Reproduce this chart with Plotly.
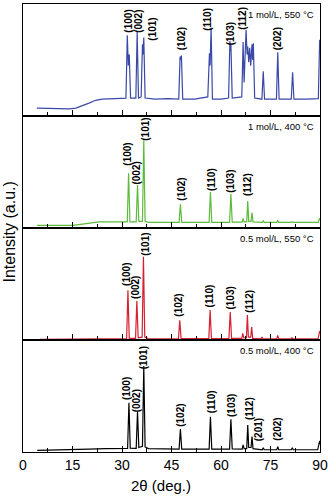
import plotly.graph_objects as go
from plotly.subplots import make_subplots

# ---------------- data (2theta in deg., intensity in a.u., each panel 0-100) ----------------
tt_1M550 = [4.2, 8, 12, 14, 16, 18, 20, 22, 24, 28, 31.2, 31.6, 31.9, 32.2, 32.6, 34.2, 34.6, 35.0,
            35.8, 36.2, 36.4, 36.6, 37.0, 40, 44, 47.2, 47.6, 47.8, 48.0, 48.4, 52, 56.0, 56.5, 56.7,
            57.0, 57.4, 60, 62.3, 62.7, 62.85, 63.0, 63.4, 66.3, 66.7, 67.0, 67.6, 67.9, 68.1, 68.4,
            68.7, 69.0, 69.4, 69.6, 69.8, 70.2, 72.4, 72.8, 73.2, 76.8, 77.2, 77.6, 81.3, 81.7, 82.1,
            86, 89.5, 89.9, 90]
I_1M550 = [7, 6.8, 6.5, 6.3, 7, 9, 11.5, 14, 15, 15.5, 16, 72, 45, 55, 16, 16, 75, 16,
           17, 64, 55, 70, 16, 15, 15.5, 15, 53, 50, 54, 15, 15, 17, 56, 45,
           79, 15, 15, 16, 67, 58, 64, 16, 17, 66, 30, 77, 55, 62, 48,
           61, 45, 64, 50, 65, 16, 15, 40, 15, 15, 57, 15, 15, 39, 15,
           15, 15.5, 68, 60]

tt_1M400 = [4.2, 15, 18, 23, 31.6, 32.0, 32.4, 34.3, 34.7, 35.1, 36.2, 36.6, 37.0, 38, 47.3, 47.7,
            48.1, 56.4, 56.8, 57.2, 62.6, 63.0, 63.4, 66.4, 66.7, 67.0, 67.8, 68.1, 68.4, 69.1, 69.4,
            69.7, 72.5, 72.8, 73.1, 76.9, 77.2, 77.5, 81.3, 81.6, 81.9, 89.4, 89.9, 90]
I_1M400 = [2.4, 2.4, 3.5, 5.4, 5.5, 48.8, 5.5, 5.5, 38.4, 6, 6, 78.3, 6, 5, 5, 21.2,
           5, 5, 32.1, 5, 5, 30.4, 5.2, 5.2, 8.6, 5.5, 5.5, 24, 6, 6, 13.7,
           5.5, 5, 6.3, 5, 5, 7, 5, 5, 5.4, 5, 5, 8.7, 7]

tt_05M550 = [5.1, 15, 25, 31.4, 31.8, 32.2, 34.1, 34.5, 34.9, 36.1, 36.5, 36.9, 38, 47.1, 47.5,
             47.9, 56.3, 56.7, 57.1, 62.4, 62.8, 63.2, 66.3, 66.6, 66.9, 67.7, 68.0, 68.3, 69.0,
             69.3, 69.6, 72.1, 72.4, 72.7, 76.9, 77.2, 77.5, 81.2, 81.5, 81.8, 89.4, 89.9, 90]
I_05M550 = [0.6, 0.8, 1, 1.2, 44.4, 1.5, 1.5, 34.8, 2, 2.5, 74.4, 2.5, 1.2, 1, 17.6,
            1.2, 1.2, 26.8, 1.3, 1.3, 25, 1.5, 1.5, 6, 1.8, 1.8, 22.3, 2.5, 2.5,
            11.6, 1.5, 1, 2.7, 1, 1, 4.2, 1, 1, 2, 1, 1, 8, 6]

tt_05M400 = [4.3, 15, 20, 25, 31.7, 32.1, 32.5, 34.3, 34.7, 35.1, 36.2, 36.6, 37.0, 38, 47.3, 47.7,
             48.1, 56.4, 56.8, 57.2, 62.6, 63.0, 63.4, 66.4, 66.7, 67.0, 67.8, 68.1, 68.4, 69.1,
             69.4, 69.7, 72.5, 72.8, 73.1, 76.9, 77.2, 77.5, 81.3, 81.6, 81.9, 89.3, 89.9, 90]
I_05M400 = [1.5, 1.8, 2.5, 3, 3.2, 44, 3.5, 3.3, 36, 4, 5, 76.8, 4.5, 3, 2.5, 20.5,
            2.5, 2.5, 31.5, 2.6, 2.5, 29.2, 2.8, 2.6, 6.3, 3, 3, 24, 4, 4,
            13.7, 3, 2, 3.8, 2, 2, 4.7, 2, 2, 3.8, 2, 2, 10, 7]

panel_titles = ["1 mol/L, 550 \u00b0C", "1 mol/L, 400 \u00b0C", "0.5 mol/L, 550 \u00b0C", "0.5 mol/L, 400 \u00b0C"]

# peak labels (text, 2theta, label height in a.u.)
lab1_text = ["(100)", "(002)", "(101)", "(102)", "(110)", "(103)", "(112)", "(202)"]
lab1_x = [31.7, 34.8, 39.3, 48.3, 55.7, 62.8, 66.3, 77.4]
lab1_y = [84.8, 84.8, 77.7, 68.8, 86.6, 73.2, 87.5, 68.8]

lab2_text = ["(100)", "(002)", "(101)", "(102)", "(110)", "(103)", "(112)"]
lab2_x = [31.8, 34.5, 37.1, 48.0, 57.2, 63.0, 68.1]
lab2_y = [66.3, 49.4, 88.1, 34.6, 43.5, 42.0, 39.0]

lab3_text = ["(100)", "(002)", "(101)", "(102)", "(110)", "(103)", "(112)"]
lab3_x = [31.4, 34.3, 37.1, 47.2, 56.8, 63.0, 68.4]
lab3_y = [58.7, 46.7, 85.4, 31.3, 39.3, 37.8, 34.8]

lab4_text = ["(100)", "(002)", "(101)", "(102)", "(110)", "(103)", "(112)", "(201)", "(202)"]
lab4_x = [31.6, 34.5, 36.5, 47.7, 57.0, 63.2, 68.6, 71.4, 77.3]
lab4_y = [56.4, 46.0, 84.0, 32.7, 44.5, 41.6, 38.7, 20.0, 20.0]

x_ticks = [0, 15, 30, 45, 60, 75, 90]

# ---------------- figure ----------------
series = [(tt_1M550, I_1M550, "#3a48a8"), (tt_1M400, I_1M400, "#5dbb3c"),
          (tt_05M550, I_05M550, "#d42030"), (tt_05M400, I_05M400, "#000000")]
labels = [(lab1_text, lab1_x, lab1_y), (lab2_text, lab2_x, lab2_y),
          (lab3_text, lab3_x, lab3_y), (lab4_text, lab4_x, lab4_y)]

fig = make_subplots(rows=4, cols=1, shared_xaxes=True, vertical_spacing=0)

FONT = "Liberation Sans, Arial, sans-serif"
for i, (xs, ys, col) in enumerate(series):
    r = i + 1
    fig.add_trace(go.Scatter(x=xs, y=ys, mode="lines", line=dict(color=col, width=1.2),
                             showlegend=False, hoverinfo="skip"), row=r, col=1)
    fig.update_xaxes(range=[0, 90], tickvals=x_ticks, ticks="inside", ticklen=6, tickwidth=1,
                     tickcolor="black", showline=True, linecolor="black", linewidth=1, mirror=True,
                     showgrid=False, zeroline=False,
                     minor=dict(dtick=7.5, tick0=0, ticks="inside", ticklen=4, tickcolor="black",
                                showgrid=False),
                     tickfont=dict(family=FONT, size=14, color="black"), row=r, col=1)
    fig.update_yaxes(range=[0, 100], showticklabels=False, ticks="", showline=True,
                     linecolor="black", linewidth=1, mirror=True, showgrid=False, zeroline=False,
                     row=r, col=1)
    xref = "x" if r == 1 else f"x{r}"
    yref = "y" if r == 1 else f"y{r}"
    fig.add_annotation(text=panel_titles[i], xref=f"{xref} domain", yref=f"{yref} domain",
                       x=0.988, y=0.91, xanchor="right", yanchor="middle", showarrow=False,
                       font=dict(family=FONT, size=9.5, color="black"))
    txt, lx, ly = labels[i]
    for t, x, y in zip(txt, lx, ly):
        fig.add_annotation(text="<b>" + t + "</b>", x=x, y=y, xref=xref, yref=yref, textangle=-90,
                           showarrow=False, xanchor="center", yanchor="middle",
                           font=dict(family=FONT, size=10, color="black"))

fig.add_annotation(text="Intensity (a.u.)", xref="paper", yref="paper", x=-0.047, y=0.49,
                   textangle=-90, showarrow=False, xanchor="center", yanchor="middle",
                   font=dict(family=FONT, size=16, color="black"))
fig.add_annotation(text="2\u03b8 (deg.)", xref="paper", yref="paper", x=0.465, y=-0.074,
                   showarrow=False, xanchor="center", yanchor="middle",
                   font=dict(family=FONT, size=15, color="black"))

fig.update_layout(width=331, height=499, margin=dict(l=23, r=9, t=3, b=47),
                  paper_bgcolor="white", plot_bgcolor="white")

fig.write_html("out.html")
